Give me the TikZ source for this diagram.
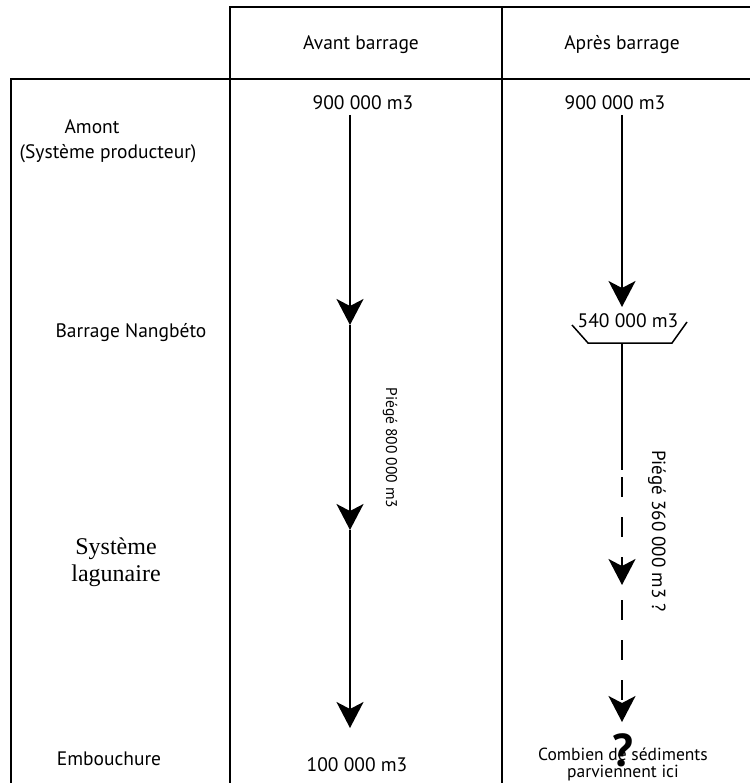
\documentclass[tikz,border=0pt]{standalone}
\usepackage{fontspec}
\setmainfont{PT Sans}
\newfontfamily\seriffont{Liberation Serif}
\usetikzlibrary{arrows.meta}

\tikzstyle{grid} = [line width=2.8pt, black]
\tikzstyle{cell} = [inner sep=0pt, align=center, font=\fontsize{19.5}{18}\selectfont]
\tikzstyle{piege} = [inner sep=0pt, rotate=-90, font=\fontsize{15.5}{18}\selectfont]
\tikzstyle{flow} = [line width=1.8pt, -{Stealth[length=26pt, width=27pt, inset=7pt]}]
\tikzstyle{gap} = [flow, dash pattern=on 20pt off 20pt]

\begin{document}
\begin{tikzpicture}[x=1pt, y=-1pt]
    \useasboundingbox (0,0) rectangle (750,783);
    % table
    \draw[grid] (230,783) -- (230,7) -- (750,7);
    \draw[grid] (11,783) -- (11,79) -- (750,79);
    \draw[grid] (502,7) -- (502,783);

    \node (avant) [cell] at (361,45) {Avant barrage};
    \node (apres) [cell] at (622,45) {Après barrage};

    \node (amont) [cell] at (92,127) {Amont};
    \node (producteur) [cell] at (108,154) {(Système producteur)};
    \node (nangbeto) [cell] at (131,333) {Barrage Nangbéto};
    \node (lagune) [cell, font=\seriffont\fontsize{24}{27}\selectfont] at (116,562) {Système\\lagunaire};
    \node (embouchure) [cell] at (109,759) {Embouchure};

    % avant barrage
    \node (avantHaut) [cell] at (363,103) {900 000 m3};
    \coordinate (a0) at (350,115);
    \coordinate (a1) at (350,325);
    \coordinate (a2) at (350,530);
    \coordinate (a3) at (350,728);
    \node (avantBas) [cell] at (357,765) {100 000 m3};
    \node (piege1) [piege] at (390,448) {Piégé 800 000 m3};
    \draw[flow] (a0) -- (a1);
    \draw[flow] (a1) -- (a2);
    \draw[flow] (a2) -- (a3);

    % apres barrage
    \node (apresHaut) [cell] at (615,103) {900 000 m3};
    \coordinate (b0) at (622,115);
    \coordinate (b1) at (622,307);
    \node (retenue) [cell] at (628,321) {540 000 m3};
    \coordinate (digueG) at (572,325);
    \coordinate (digueBG) at (588,343);
    \coordinate (digueBD) at (672,343);
    \coordinate (digueD) at (687,322);
    \draw[line width=1.5pt] (digueG) -- (digueBG) -- (digueBD) -- (digueD);
    \coordinate (b2) at (622,343);
    \coordinate (b3) at (622,470);
    \coordinate (b4) at (622,585);
    \coordinate (b5) at (622,722);
    \draw[flow] (b0) -- (b1);
    \draw[line width=1.8pt] (b2) -- (b3);
    \draw[gap, dash phase=33pt] (b3) -- (b4);
    \draw[gap, dash phase=25pt] (b4) -- (b5);
    \node (piege2) [piege, font=\fontsize{19}{18}\selectfont] at (657,531) {Piégé 360 000 m3 ?};
    \node (combien) [cell, font=\fontsize{17.5}{17}\selectfont] at (623,764) {Combien de sédiments\\parviennent ici};
    \node (question) [inner sep=0pt, font=\bfseries\fontsize{46}{46}\selectfont] at (623,750) {?};
\end{tikzpicture}
\end{document}
